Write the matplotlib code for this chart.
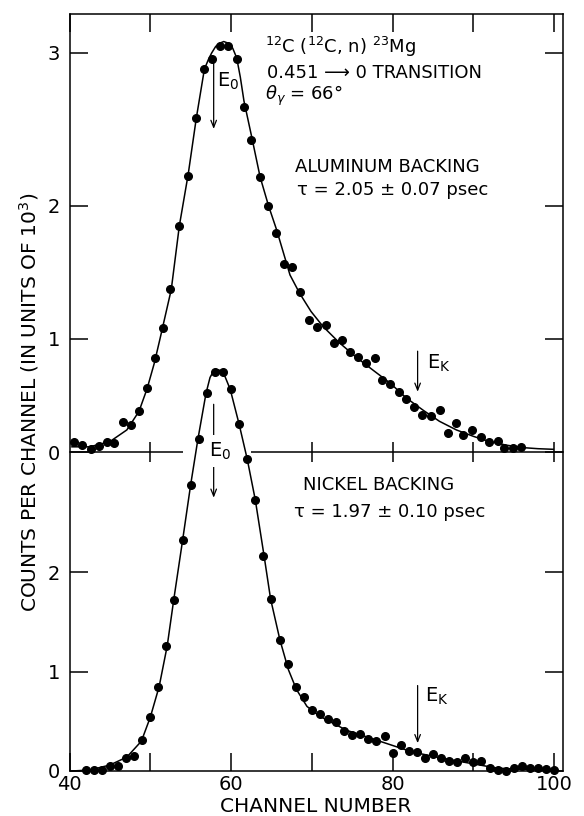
import numpy as np
import matplotlib
matplotlib.use('Agg')
import matplotlib.pyplot as plt

plt.rcParams['font.family'] = ['DejaVu Sans']

# Aluminum backing (top panel): measured points and fitted line shape,
# counts per channel in units of 10^3
alu_channel = [40.5, 41.6, 42.6, 43.6, 44.6, 45.5, 46.6, 47.6, 48.6, 49.6,
               50.6, 51.6, 52.5, 53.5, 54.7, 55.7, 56.6, 57.6, 58.6, 59.6,
               60.7, 61.6, 62.5, 63.6, 64.6, 65.6, 66.6, 67.6, 68.5, 69.6,
               70.6, 71.7, 72.8, 73.7, 74.7, 75.7, 76.7, 77.8, 78.7, 79.7,
               80.8, 81.7, 82.6, 83.7, 84.7, 85.9, 86.9, 87.8, 88.7, 89.8,
               90.9, 91.9, 93.0, 93.8, 94.9, 95.9]
alu_counts = [0.10, 0.07, 0.03, 0.06, 0.10, 0.09, 0.28, 0.26, 0.38, 0.59,
              0.84, 1.09, 1.39, 1.86, 2.21, 2.59, 2.90, 2.96, 3.04, 3.04,
              2.96, 2.66, 2.45, 2.20, 2.00, 1.81, 1.58, 1.56, 1.37, 1.15,
              1.10, 1.11, 0.97, 0.99, 0.89, 0.85, 0.80, 0.84, 0.66, 0.62,
              0.55, 0.49, 0.42, 0.35, 0.34, 0.39, 0.18, 0.27, 0.16, 0.21,
              0.14, 0.10, 0.11, 0.04, 0.04, 0.05]
alu_fit_channel = [40.3, 42.5, 45.0, 47.1, 48.6, 49.6, 50.5, 51.2, 52.6, 53.6,
                   54.7, 55.7, 56.7, 57.2, 57.6, 58.1, 58.6, 59.1, 59.65, 60.2,
                   60.7, 61.15, 61.6, 62.55, 63.6, 64.65, 65.65, 67.3, 68.5, 69.9,
                   71.4, 73.4, 75.5, 77.6, 79.7, 81.7, 83.8, 85.8, 87.9, 90.0,
                   92.0, 94.1, 96.2, 98.0, 99.9]
alu_fit = [0.05, 0.05, 0.10, 0.21, 0.38, 0.58, 0.80, 1.00, 1.39, 1.86,
           2.22, 2.59, 2.90, 2.96, 3.00, 3.04, 3.06, 3.07, 3.06, 3.03,
           2.97, 2.85, 2.70, 2.47, 2.20, 2.00, 1.83, 1.50, 1.36, 1.22,
           1.10, 0.97, 0.85, 0.74, 0.63, 0.50, 0.39, 0.29, 0.21, 0.15,
           0.10, 0.066, 0.042, 0.032, 0.026]

# Nickel backing (bottom panel)
ni_channel = [42, 43, 44, 45, 46, 47, 48, 49, 50, 51,
              52, 53, 54, 55, 56, 57, 58, 59, 60, 61,
              62, 63, 64, 65, 66, 67, 68, 69, 70, 71,
              72, 73, 74, 75, 76, 77, 78, 79, 80, 81,
              82, 83, 84, 85, 86, 87, 88, 89, 90, 91,
              92, 93, 94, 95, 96, 97, 98, 99, 100]
ni_counts = [0.01, 0.01, 0.01, 0.05, 0.05, 0.13, 0.15, 0.31, 0.54, 0.85,
             1.26, 1.72, 2.32, 2.88, 3.34, 3.80, 4.02, 4.01, 3.84, 3.49,
             3.14, 2.73, 2.16, 1.73, 1.32, 1.08, 0.85, 0.74, 0.61, 0.57,
             0.52, 0.49, 0.40, 0.36, 0.37, 0.32, 0.30, 0.35, 0.18, 0.26,
             0.20, 0.19, 0.13, 0.17, 0.13, 0.10, 0.09, 0.13, 0.09, 0.10,
             0.03, 0.01, 0.00, 0.03, 0.05, 0.03, 0.03, 0.02, 0.01]
ni_fit_channel = [40.3, 42.5, 45.0, 47.1, 48.9, 50.0, 51.1, 52.1, 52.9, 54.0,
                  55.0, 55.9, 56.9, 57.4, 57.8, 58.2, 58.7, 59.2, 59.9, 61.0,
                  62.0, 63.0, 64.1, 64.9, 66.05, 67.1, 68.1, 69.4, 71.0, 74.3,
                  78.4, 82.5, 86.7, 90.8, 92.9, 94.9, 99.9]
ni_fit = [0.0, 0.01, 0.06, 0.14, 0.30, 0.54, 0.85, 1.26, 1.72, 2.32,
          2.88, 3.34, 3.80, 3.96, 4.02, 4.04, 4.03, 3.98, 3.84, 3.49,
          3.14, 2.73, 2.16, 1.73, 1.32, 1.02, 0.82, 0.65, 0.55, 0.41,
          0.30, 0.19, 0.12, 0.06, 0.03, 0.02, 0.01]

# E0 and EK markers: channel, arrow start and end (counts)
E0_CHANNEL = 57.85
EK_CHANNEL = 83.1
ALU_E0_ARROW = (2.95, 2.52)
ALU_EK_ARROW = (0.90, 0.555)
NI_E0_ARROW = (3.69, 2.75)
NI_EK_ARROW = (0.86, 0.28)

XMIN, XMAX = 40, 101.1
X_TICKS = [40, 50, 60, 70, 80, 90, 100]
X_TICK_LABELS = ['40', '', '60', '', '80', '', '100']
GAP = (54.0, 62.5)  # shared axis line is broken where the peaks cross it

# the top panel of the scanned figure is stretched towards its top edge
STRETCH = 0.097


def forward(y):
    y = np.asarray(y, dtype=float)
    return y + STRETCH * y ** 2


def inverse(u):
    u = np.asarray(u, dtype=float)
    return (np.sqrt(np.maximum(1 + 4 * STRETCH * u, 0)) - 1) / (2 * STRETCH)


W, H = 584, 816
fig = plt.figure(figsize=(W / 100, H / 100), dpi=100)
ax_top = fig.add_axes([69.5 / W, 1 - 452 / H, 493.5 / W, 437.7 / H])
ax_bot = fig.add_axes([69.5 / W, 1 - 771 / H, 493.5 / W, 319 / H])

for ax in (ax_top, ax_bot):
    ax.set_facecolor('none')
    for s in ax.spines.values():
        s.set_linewidth(1.1)
    ax.set_xlim(XMIN, XMAX)
    ax.set_xticks(X_TICKS)
    ax.tick_params(direction='in', length=13, width=1.1, labelsize=14,
                   left=True, right=True, colors='k')
    ax.tick_params(axis='y', pad=7)

# top panel
ax_top.set_yscale('function', functions=(forward, inverse))
ax_top.set_ylim(0, 3.234)
ax_top.set_yticks([0, 1, 2, 3])
ax_top.set_yticklabels(['0', '1', '2', '3'])
ax_top.tick_params(axis='x', top=True, bottom=False, labelbottom=False)
ax_top.spines['bottom'].set_visible(False)

# broken shared axis line with ticks crossing both ways
ax_top.hlines([0, 0], [XMIN, GAP[1]], [GAP[0], XMAX], color='k', lw=1.1,
              clip_on=False)
mid_ticks = [t for t in X_TICKS[1:] if not GAP[0] < t < GAP[1]]
ax_top.plot(mid_ticks, np.zeros(len(mid_ticks)), ls='none', marker='|',
            ms=14.4, mew=1.1, color='k', clip_on=False)

ax_top.plot(alu_fit_channel, alu_fit, 'k-', lw=1.1)
ax_top.plot(alu_channel, alu_counts, 'ko', ms=5.5, clip_on=False)

arrow = dict(arrowstyle='->,head_length=0.5,head_width=0.2', lw=0.9,
             color='k', shrinkA=0, shrinkB=0)
ax_top.annotate('', xy=(E0_CHANNEL, ALU_E0_ARROW[1]),
                xytext=(E0_CHANNEL, ALU_E0_ARROW[0]), arrowprops=arrow)
ax_top.annotate('E$_0$', xy=(E0_CHANNEL, ALU_E0_ARROW[0]), xytext=(2.5, -7),
                textcoords='offset points', ha='left', va='top', fontsize=14)
ax_top.annotate('', xy=(EK_CHANNEL, ALU_EK_ARROW[1]),
                xytext=(EK_CHANNEL, ALU_EK_ARROW[0]), arrowprops=arrow)
ax_top.annotate('E$_\\mathrm{K}$', xy=(EK_CHANNEL, ALU_EK_ARROW[0]),
                xytext=(7, -1), textcoords='offset points', ha='left',
                va='top', fontsize=14)

ax_top.text(0.396, 0.911, r'$^{12}$C ($^{12}$C, n) $^{23}$Mg',
            transform=ax_top.transAxes, fontsize=13, va='baseline')
ax_top.text(0.400, 0.854, '0.451 ⟶ 0 TRANSITION',
            transform=ax_top.transAxes, fontsize=13, va='baseline')
ax_top.text(0.396, 0.804, r'$\theta_\gamma$ = 66°',
            transform=ax_top.transAxes, fontsize=13, va='baseline')
ax_top.text(0.645, 0.640, 'ALUMINUM BACKING', transform=ax_top.transAxes,
            fontsize=13, ha='center', va='baseline')
ax_top.text(0.655, 0.587, 'τ = 2.05 ± 0.07 psec', transform=ax_top.transAxes,
            fontsize=13, ha='center', va='baseline')

# bottom panel
ax_bot.set_ylim(0, 3.21)
ax_bot.set_yticks([0, 1, 2])
ax_bot.set_yticklabels(['0', '1', '2'])
ax_bot.set_xticklabels(X_TICK_LABELS)
ax_bot.tick_params(axis='x', top=False, bottom=True, pad=3)
ax_bot.spines['top'].set_visible(False)

ax_bot.plot(ni_fit_channel, ni_fit, 'k-', lw=1.1, clip_on=False)
ax_bot.plot(ni_channel, ni_counts, 'ko', ms=5.5, clip_on=False)

ax_bot.annotate('', xy=(E0_CHANNEL, NI_E0_ARROW[1]),
                xytext=(E0_CHANNEL, NI_E0_ARROW[0]), arrowprops=arrow,
                annotation_clip=False)
ax_bot.annotate('E$_0$', xy=(E0_CHANNEL, 3.22), xytext=(4.5, 0),
                textcoords='offset points', ha='center', va='center',
                fontsize=14, annotation_clip=False, zorder=5,
                bbox=dict(boxstyle='square,pad=0.25', fc='white', ec='none'))
ax_bot.annotate('', xy=(EK_CHANNEL, NI_EK_ARROW[1]),
                xytext=(EK_CHANNEL, NI_EK_ARROW[0]), arrowprops=arrow)
ax_bot.annotate('E$_\\mathrm{K}$', xy=(EK_CHANNEL, NI_EK_ARROW[0]),
                xytext=(5.5, 0), textcoords='offset points', ha='left',
                va='top', fontsize=14)

ax_bot.text(0.627, 0.881, 'NICKEL BACKING', transform=ax_bot.transAxes,
            fontsize=13, ha='center', va='baseline')
ax_bot.text(0.648, 0.797, 'τ = 1.97 ± 0.10 psec', transform=ax_bot.transAxes,
            fontsize=13, ha='center', va='baseline')

fig.text(29 / W, 1 - 402 / H, 'COUNTS PER CHANNEL (IN UNITS OF 10$^3$)',
         rotation=90, ha='center', va='center', fontsize=14.5)
fig.text(316 / W, 1 - 806 / H, 'CHANNEL NUMBER', ha='center', va='center',
         fontsize=14.5)

fig.savefig('out.png', dpi=100)
